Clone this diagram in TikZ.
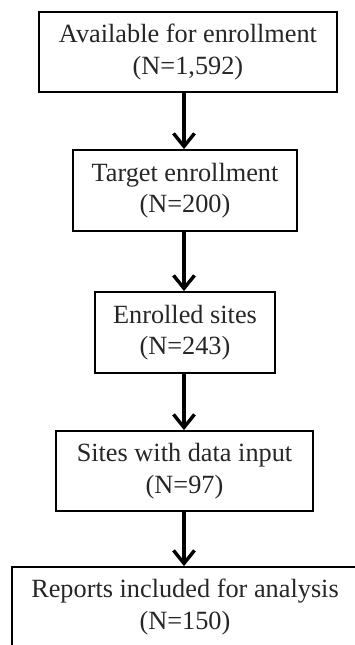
\documentclass[tikz,border=0pt]{standalone}
\usepackage{fontspec}
\setmainfont{Liberation Serif}
\usetikzlibrary{arrows.meta}
\begin{document}
\begin{tikzpicture}[x=1pt,y=-1pt,
  box/.style={draw=black,line width=1.8pt,align=center,inner sep=0pt,
    font=\fontsize{26.3}{31.5}\selectfont,text=black!85},
  flow/.style={line width=3.6pt,-{Straight Barb[length=13pt,width=21pt,line width=3.4pt]}}]
\useasboundingbox (0,0) rectangle (355,645);
\node[box,minimum width=298pt,minimum height=80pt] (a) at (188,52) {Available for enrollment\\(N=1,592)};
\node[box,minimum width=224pt,minimum height=81pt] (b) at (185,190.5) {Target enrollment\\(N=200)};
\node[box,minimum width=180pt,minimum height=81pt] (c) at (185,332.5) {Enrolled sites\\(N=243)};
\node[box,minimum width=257pt,minimum height=80pt] (d) at (184.5,471) {Sites with data input\\(N=97)};
\node[box,minimum width=346pt,minimum height=80pt] (e) at (185,607) {Reports included for analysis\\(N=150)};
\draw[flow] (a.south -| 184,0) -- (b.north -| 184,0);
\draw[flow] (b.south -| 184,0) -- (c.north -| 184,0);
\draw[flow] (c.south -| 184,0) -- (d.north -| 184,0);
\draw[flow] (d.south -| 184,0) -- (e.north -| 184,0);
\end{tikzpicture}
\end{document}
